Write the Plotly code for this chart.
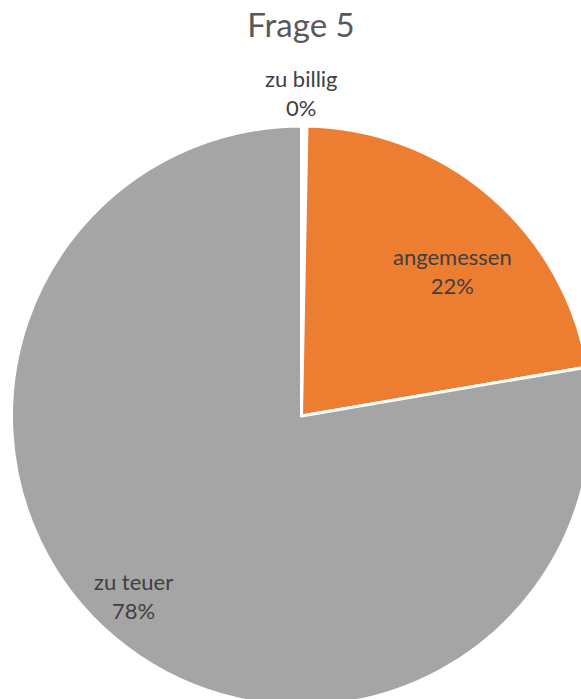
import math
import plotly.graph_objects as go

categories = ["zu billig", "angemessen", "zu teuer"]
values = [0.3, 22.0, 77.7]
colors = ["#FFFFFF", "#ED7D31", "#A5A5A5"]
title_text = "Frage 5"

# label placement style (radius as fraction of pie radius, angle tweak in degrees)
label_radius = [1.131, 0.733, 0.862]
label_angle_shift = [-0.5, 5.4, 2.8]

W, H = 600, 720
L, T, SIZE = 11, 125.5, 581
R, B = W - L - SIZE, H - T - SIZE
PIE_R = 0.492  # effective pie radius in paper units

fig = go.Figure(go.Pie(
    labels=categories,
    values=values,
    sort=False,
    direction="clockwise",
    rotation=0,
    marker=dict(colors=colors, line=dict(color="#FFFFFF", width=3)),
    textinfo="none",
    showlegend=False,
    hoverinfo="label+percent",
))

total = sum(values)
cum = 0.0
for lab, v, f, sh in zip(categories, values, label_radius, label_angle_shift):
    mid = (cum + v / 2) / total * 360 + sh
    cum += v
    ang = math.radians(mid)
    x = 0.5 + f * PIE_R * math.sin(ang)
    y = 0.5 + f * PIE_R * math.cos(ang)
    pct = round(v / total * 100)
    fig.add_annotation(
        x=x, y=y, xref="paper", yref="paper",
        text=f"{lab}<br>{pct}%",
        showarrow=False, xanchor="center", yanchor="middle",
        font=dict(family="Lato", size=22, color="#404040"),
    )

fig.update_layout(
    width=W, height=H,
    margin=dict(l=L, r=R, t=T, b=B),
    paper_bgcolor="#FFFFFF",
    title=dict(text=title_text, x=301 / W, xanchor="center", xref="container",
               y=1 - 25 / H, yanchor="middle", yref="container",
               font=dict(family="Lato", size=33, color="#595959")),
)

fig.write_html(
    "out.html",
    config={"displayModeBar": False},
    post_script="document.body.style.margin='0';document.body.style.overflow='hidden';",
)
